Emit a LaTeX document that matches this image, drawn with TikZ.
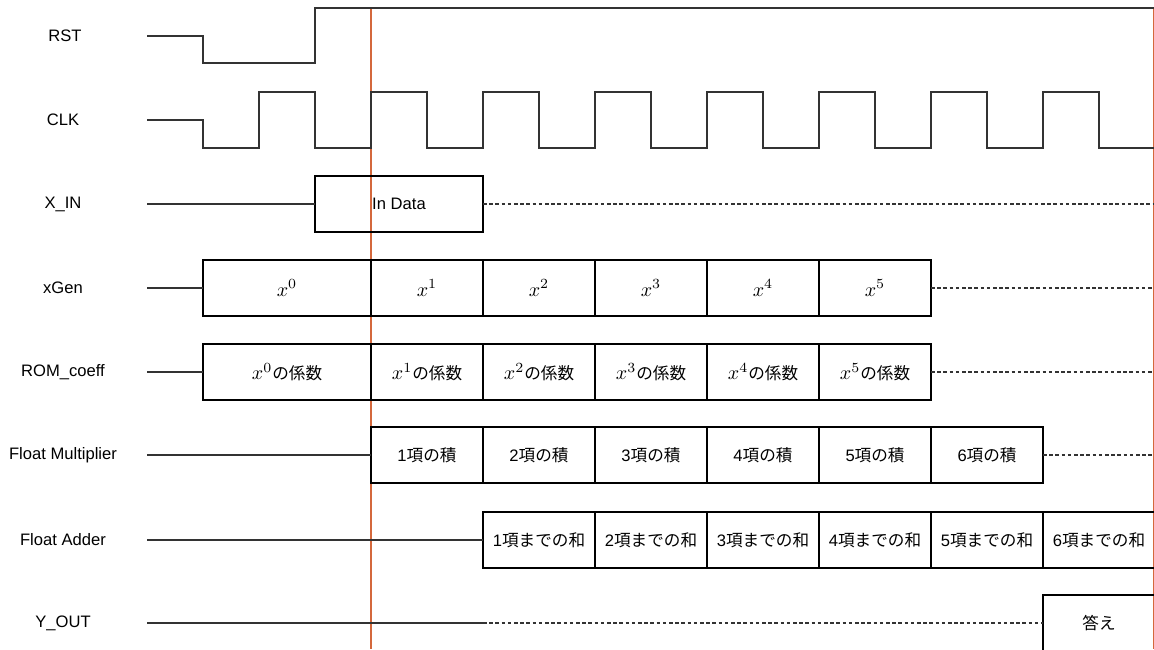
\documentclass[tikz,border=0pt]{standalone}
\usepackage{fontspec}
\setmainfont{Liberation Sans}
\newfontfamily\jp{Noto Sans CJK JP}
\usepackage{tikz}
\usetikzlibrary{positioning,calc}
\definecolor{wgray}{HTML}{333333}
\definecolor{vorange}{HTML}{D4683C}
\newcommand{\fsz}{\fontsize{8.3}{10}\selectfont}
\newcommand{\xp}[1]{{\fontsize{9.6}{11}\selectfont$x^{#1}$}}
\newcommand{\coef}[1]{\xp{#1}{\jp の係数}}
\tikzset{
  sig/.style={draw=wgray,line width=0.65pt},
  idle/.style={draw=wgray,line width=0.6pt,dash pattern=on 1.8pt off 1.3pt},
  cell/.style={draw=black,line width=0.6pt,minimum width=56pt,minimum height=28pt,inner sep=0pt,outer sep=0pt,font=\fsz},
  lbl/.style={font=\fsz,anchor=center},
  cursor/.style={draw=vorange,line width=0.9pt},
}

\begin{document}
\begin{tikzpicture}[x=0.5pt,y=-0.5pt]
\useasboundingbox (0,0) rectangle (1154,649);
% time cursors
\draw[cursor] (371,8) -- (371,649);
\draw[cursor,line width=0.5pt] (1153,8) -- (1153,649);
% signal names
\node[lbl] (n-rst) at (65,36) {RST};
\node[lbl] (n-clk) at (63,120) {CLK};
\node[lbl] (n-xin) at (63,204) {X\_IN};
\node[lbl] (n-xgen) at (63,288) {xGen};
\node[lbl] (n-rom) at (63,372) {ROM\_coeff};
\node[lbl] (n-fm) at (63,455) {Float Multiplier};
\node[lbl] (n-fa) at (63,540) {Float Adder};
\node[lbl] (n-yout) at (63,623) {Y\_OUT};
% RST and CLK
\draw[sig] (147,36) -- (203,36) -- (203,63) -- (315,63) -- (315,8) -- (1154,8);
\draw[sig] (147,120) -- (203,120) -- (203,148) -- (259,148)
  foreach \t in {259,371,...,1043} { -- (\t,92) -- ({\t+56},92) -- ({\t+56},148) -- ({\t+112},148) };
% X_IN
\node[cell, minimum width=84pt] (xin) at (399,204) {In Data};
\coordinate (xin-end) at (1154,204);
\draw[sig] (147,204) -- (xin.west);
\draw[idle] (xin.east) -- (xin-end);
% xGen
\node[cell, minimum width=84pt] (xg0) at (287,288) {\xp{0}};
\foreach \i in {1,...,5}
  \node[cell] (xg\i) at ({315+112*\i},288) {\xp{\i}};
\coordinate (xg-end) at (1154,288);
\draw[sig] (147,288) -- (xg0.west);
\draw[idle] (xg5.east) -- (xg-end);
% ROM_coeff
\node[cell, minimum width=84pt] (rc0) at (287,372) {\coef{0}};
\foreach \i in {1,...,5}
  \node[cell] (rc\i) at ({315+112*\i},372) {\coef{\i}};
\coordinate (rc-end) at (1154,372);
\draw[sig] (147,372) -- (rc0.west);
\draw[idle] (rc5.east) -- (rc-end);
% Float Multiplier
\foreach \i in {1,...,6}
  \node[cell] (fm\i) at ({315+112*\i},455) {\i{\jp 項の積}};
\coordinate (fm-end) at (1154,455);
\draw[sig] (147,455) -- (fm1.west);
\draw[idle] (fm6.east) -- (fm-end);
% Float Adder
\foreach \i in {1,...,6}
  \node[cell] (fa\i) at ({427+112*\i},540) {\i{\jp 項までの和}};
\draw[sig] (147,540) -- (fa1.west);
% Y_OUT
\node[cell] (yout) at (1099,623) {{\jp 答え}};
\coordinate (yo-mid) at (483,623);
\draw[sig] (147,623) -- (yo-mid);
\draw[idle] (yo-mid) -- (yout.west);
\end{tikzpicture}
\end{document}
